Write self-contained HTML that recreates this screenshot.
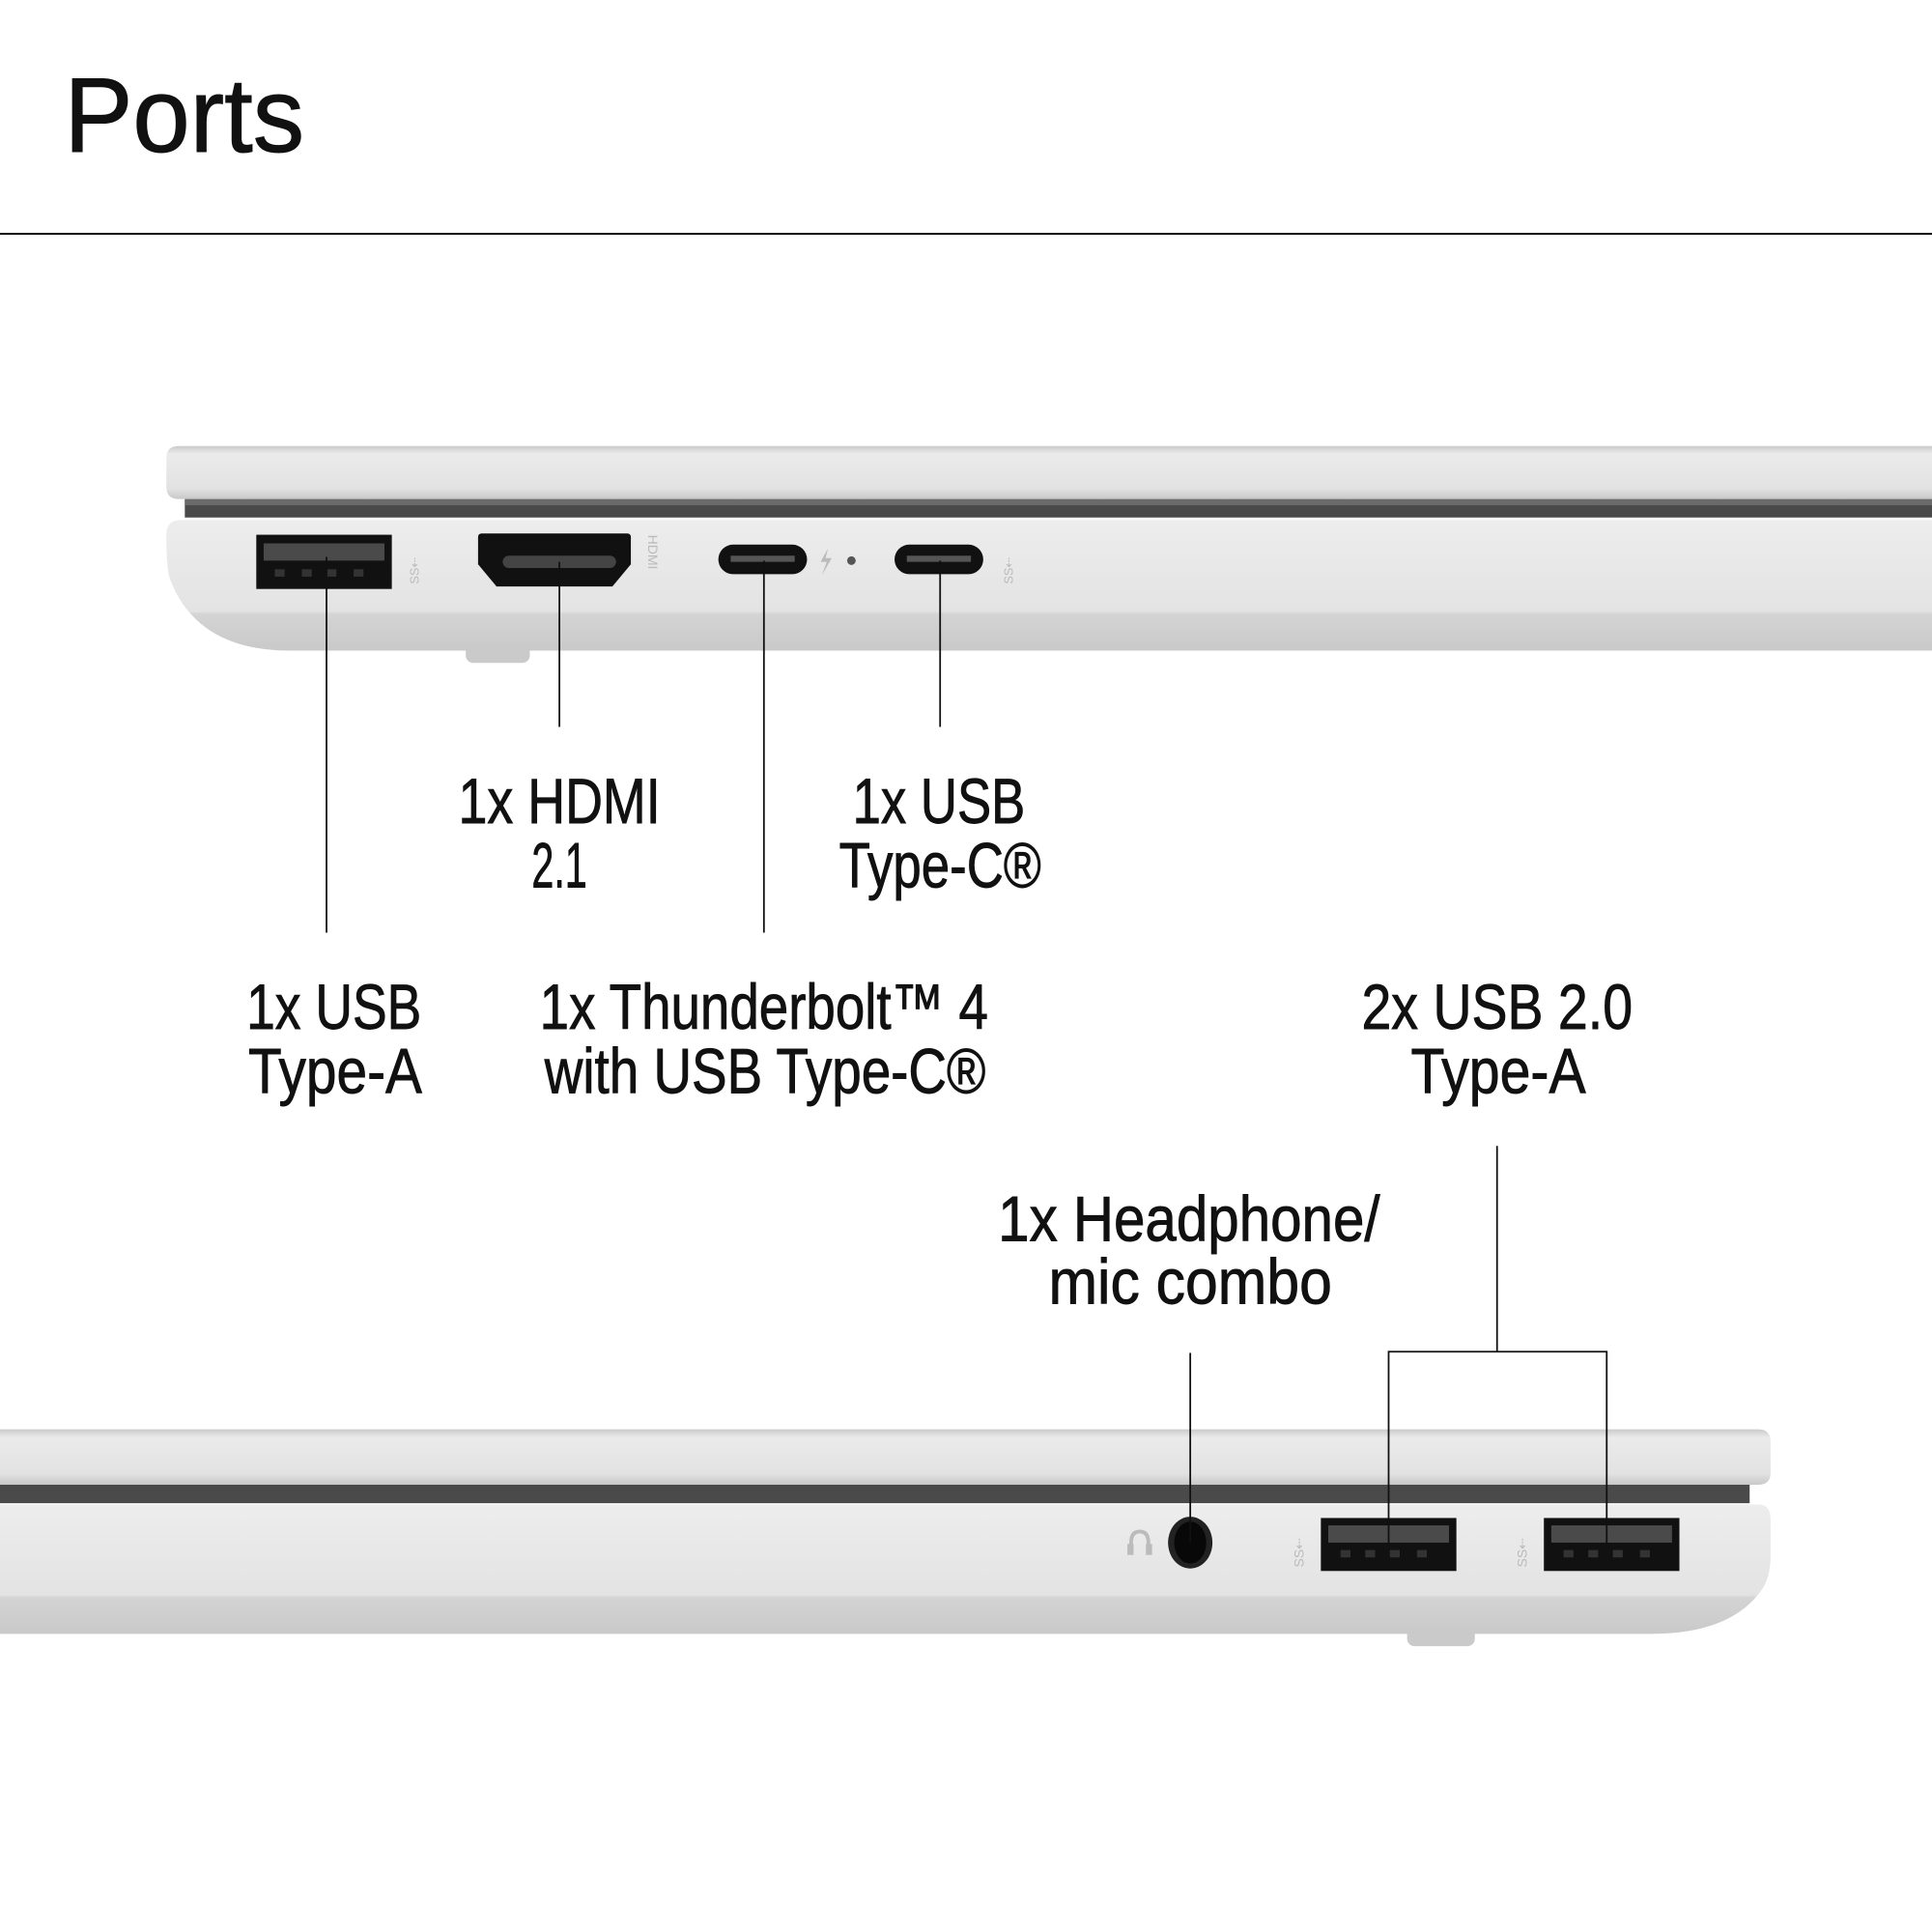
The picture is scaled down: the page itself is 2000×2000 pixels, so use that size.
<!DOCTYPE html>
<html><head><meta charset="utf-8"><style>
html,body{margin:0;padding:0;background:#fff;}
svg{display:block;}
text{font-family:"Liberation Sans",sans-serif;fill:#111;}
.lbl text{stroke:#111;stroke-width:0.7;}
</style></head><body>
<svg width="2000" height="2000" viewBox="0 0 1568 1568" xmlns="http://www.w3.org/2000/svg">
<defs>
<linearGradient id="lid" x1="0" y1="0" x2="0" y2="1">
<stop offset="0" stop-color="#cacaca"/><stop offset="0.15" stop-color="#ebebeb"/><stop offset="0.8" stop-color="#e2e2e2"/><stop offset="1" stop-color="#c8c8c8"/></linearGradient>
<linearGradient id="base" x1="0" y1="0" x2="0" y2="1">
<stop offset="0" stop-color="#ededed"/><stop offset="0.7" stop-color="#e3e3e3"/><stop offset="0.72" stop-color="#d4d4d4"/><stop offset="1" stop-color="#c9c9c9"/></linearGradient>
</defs>
<rect width="1568" height="1568" fill="#fff"/>
<text x="52" y="123" font-size="86" textLength="195" lengthAdjust="spacingAndGlyphs" stroke="#111" stroke-width="0.8">Ports</text>
<rect x="0" y="189" width="1568" height="1.6" fill="#111"/>

<!-- top laptop -->
<rect x="378" y="520" width="52" height="18" rx="6" fill="#cacaca"/>
<path d="M150,405 H1568 V420 H150 Z" fill="#4a4a4a"/>
<path d="M150,405 H1568 V410 H150 Z" fill="#6a6a6a"/>
<path d="M145,362 H1568 V405 H145 Q135,405 135,395 V372 Q135,362 145,362 Z" fill="url(#lid)"/>
<path d="M147,422 H1568 V528 H235 Q160,528 138,470 Q135,462 135,434 Q135,422 147,422 Z" fill="url(#base)"/>
<rect x="208" y="434" width="110" height="44" fill="#111"/>
<rect x="214" y="441" width="98" height="14" fill="#4a4a4a"/>
<rect x="223" y="462" width="8" height="6" fill="#333"/><rect x="245" y="462" width="8" height="6" fill="#333"/><rect x="265" y="462" width="8" height="6" fill="#333"/><rect x="287" y="462" width="8" height="6" fill="#333"/>
<path d="M388,436 Q388,433 391,433 H509 Q512,433 512,436 V458 L497,476 H403 L388,458 Z" fill="#111"/>
<rect x="408" y="451" width="92" height="10" rx="5" fill="#444"/>
<rect x="583" y="442" width="72" height="24" rx="12" fill="#111"/>
<rect x="593" y="451" width="52" height="5" fill="#555"/>
<path d="M672,445 L666,456 H671 L667,467 L675,453 H670 Z" fill="#bbb"/>
<circle cx="691" cy="455" r="3.5" fill="#555"/>
<rect x="726" y="442" width="72" height="24" rx="12" fill="#111"/>
<rect x="736" y="451" width="52" height="5" fill="#555"/>
<text x="0" y="0" font-size="10" transform="translate(340,474) rotate(-90)" style="fill:#bbb">SS⇠</text>
<text x="0" y="0" font-size="11" transform="translate(526,434) rotate(90)" style="fill:#bbb">HDMI</text>
<text x="0" y="0" font-size="10" transform="translate(822,474) rotate(-90)" style="fill:#bbb">SS⇠</text>

<g stroke="#111" stroke-width="1.4">
<line x1="265" y1="452" x2="265" y2="757"/>
<line x1="454" y1="456" x2="454" y2="590"/>
<line x1="620" y1="455" x2="620" y2="757"/>
<line x1="763" y1="455" x2="763" y2="590"/>
</g>

<g class="lbl" font-size="52" text-anchor="middle">
<text x="454" y="668" textLength="164" lengthAdjust="spacingAndGlyphs">1x HDMI</text>
<text x="454" y="720" textLength="45" lengthAdjust="spacingAndGlyphs">2.1</text>
<text x="762" y="668" textLength="140" lengthAdjust="spacingAndGlyphs">1x USB</text>
<text x="763" y="720" textLength="164" lengthAdjust="spacingAndGlyphs">Type-C®</text>
<text x="271" y="835" textLength="142" lengthAdjust="spacingAndGlyphs">1x USB</text>
<text x="272" y="887" textLength="141" lengthAdjust="spacingAndGlyphs">Type-A</text>
<text x="620" y="835" textLength="364" lengthAdjust="spacingAndGlyphs">1x Thunderbolt™ 4</text>
<text x="621" y="887" textLength="358" lengthAdjust="spacingAndGlyphs">with USB Type-C®</text>
<text x="1215" y="835" textLength="220" lengthAdjust="spacingAndGlyphs">2x USB 2.0</text>
<text x="1216" y="887" textLength="142" lengthAdjust="spacingAndGlyphs">Type-A</text>
<text x="965" y="1007" textLength="310" lengthAdjust="spacingAndGlyphs">1x Headphone/</text>
<text x="966" y="1058" textLength="230" lengthAdjust="spacingAndGlyphs">mic combo</text>
</g>

<!-- bottom laptop -->
<rect x="1142" y="1318" width="55" height="18" rx="6" fill="#cacaca"/>
<path d="M0,1205 H1420 V1220 H0 Z" fill="#4a4a4a"/>
<path d="M0,1160 H1427 Q1437,1160 1437,1170 V1195 Q1437,1205 1427,1205 H0 Z" fill="url(#lid)"/>
<path d="M0,1221 H1427 Q1437,1221 1437,1233 V1262 Q1437,1280 1430,1290 Q1405,1326 1340,1326 H0 Z" fill="url(#base)"/>
<path d="M918,1260 V1252 Q918,1243 925,1243 Q932,1243 932,1252 V1260" fill="none" stroke="#bbb" stroke-width="3"/>
<rect x="915" y="1253" width="5" height="9" fill="#bbb"/><rect x="930" y="1253" width="5" height="9" fill="#bbb"/>
<ellipse cx="966" cy="1252" rx="18" ry="21" fill="#222"/>
<ellipse cx="966" cy="1252" rx="13" ry="17" fill="#080808"/>
<g>
<rect x="1072" y="1232" width="110" height="43" fill="#111"/>
<rect x="1078" y="1238" width="98" height="14" fill="#4a4a4a"/>
<rect x="1088" y="1258" width="8" height="6" fill="#333"/><rect x="1108" y="1258" width="8" height="6" fill="#333"/><rect x="1128" y="1258" width="8" height="6" fill="#333"/><rect x="1150" y="1258" width="8" height="6" fill="#333"/>
</g>
<g>
<rect x="1253" y="1232" width="110" height="43" fill="#111"/>
<rect x="1259" y="1238" width="98" height="14" fill="#4a4a4a"/>
<rect x="1269" y="1258" width="8" height="6" fill="#333"/><rect x="1289" y="1258" width="8" height="6" fill="#333"/><rect x="1309" y="1258" width="8" height="6" fill="#333"/><rect x="1331" y="1258" width="8" height="6" fill="#333"/>
</g>
<text x="0" y="0" font-size="11" transform="translate(1058,1272) rotate(-90)" style="fill:#bbb">SS⇠</text>
<text x="0" y="0" font-size="11" transform="translate(1239,1272) rotate(-90)" style="fill:#bbb">SS⇠</text>

<g stroke="#111" stroke-width="1.4" fill="none">
<line x1="966" y1="1098" x2="966" y2="1252"/>
<line x1="1215" y1="930" x2="1215" y2="1097"/>
<path d="M1127,1252 V1097 H1304 V1252"/>
</g>
</svg>
</body></html>
